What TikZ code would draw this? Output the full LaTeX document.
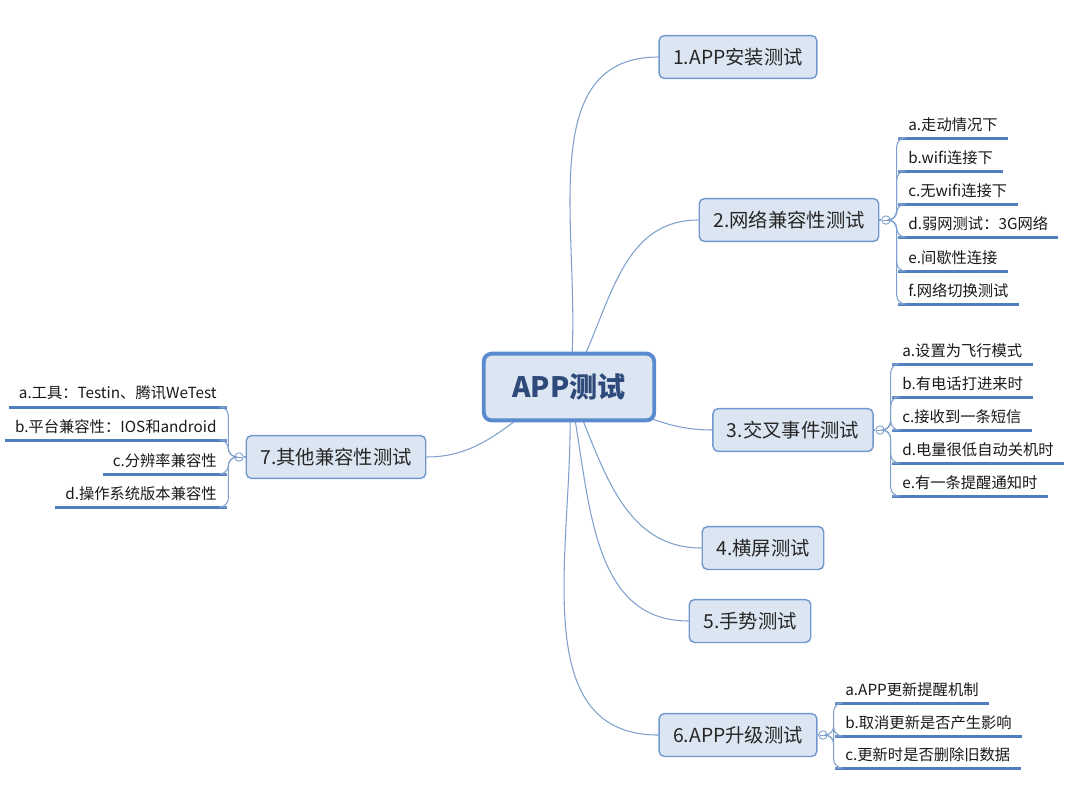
\documentclass[tikz,border=0pt]{standalone}
\usepackage{fontspec}
\setmainfont{Noto Sans CJK SC}
\usetikzlibrary{backgrounds}

\definecolor{boxfill}{HTML}{DCE6F2}
\definecolor{boxline}{HTML}{7097CE}
\definecolor{rootline}{HTML}{5B8BCF}
\definecolor{roottext}{HTML}{2E4A7A}
\definecolor{limbcol}{HTML}{7FA0CC}
\definecolor{ulcol}{HTML}{4F7EC1}

\tikzset{
  root/.style={draw=rootline,line width=2.2pt,fill=boxfill,rounded corners=4.5pt,
    minimum width=97pt,minimum height=38pt,text=roottext,
    font=\fontsize{16}{18}\selectfont\bfseries},
  branch/.style={draw=boxline,line width=0.8pt,fill=boxfill,rounded corners=3pt,
    minimum height=24.4pt,inner xsep=8pt,text=black!85,
    font=\fontsize{11}{13}\selectfont},
  leaf/.style={inner xsep=5.7pt,inner ysep=3.6pt,text=black!90,
    font=\fontsize{8.7}{10}\selectfont},
  limb/.style={draw=limbcol,line width=0.6pt},
  twig/.style={draw=limbcol,line width=0.6pt,rounded corners=5pt},
  uline/.style={draw=ulcol,line width=1.7pt},
  knob/.style={circle,draw=limbcol,fill=white,line width=0.5pt,inner sep=0pt,
    minimum size=4.8pt,
    path picture={\draw[limbcol,line width=0.4pt]
      ([xshift=-1.5pt]path picture bounding box.center) --
      ([xshift=1.5pt]path picture bounding box.center);}}
}

\begin{document}
\begin{tikzpicture}[x=0.02cm,y=-0.02cm]
\useasboundingbox (0,0) rectangle (1077,789);

% centre and main topics
\node[root] (root) at (569,387) {APP测试};
\node[branch] (b1) at (738,57) {1.APP安装测试};
\node[branch] (b2) at (789,220) {2.网络兼容性测试};
\node[branch] (b3) at (793,430) {3.交叉事件测试};
\node[branch] (b4) at (763,548) {4.横屏测试};
\node[branch] (b5) at (750,621) {5.手势测试};
\node[branch] (b6) at (738,735) {6.APP升级测试};
\node[branch] (b7) at (336,457) {7.其他兼容性测试};

\begin{pgfonlayer}{background}
\draw[limb] (root.center) to[out=82,in=180] (b1.west);
\draw[limb] (root.center) to[out=60,in=180] (b2.west);
\draw[limb] (root.center) to[out=-15,in=180] (b3.west);
\draw[limb] (root.center) to[out=-66,in=180] (b4.west);
\draw[limb] (root.center) to[out=-78,in=180] (b5.west);
\draw[limb] (root.center) to[out=-86,in=180] (b6.west);
\draw[limb] (root.center) to[out=-155,in=0] (b7.east);
\end{pgfonlayer}

% collapse knobs
\node[knob] (k2) at (886,220) {};
\node[knob] (k3) at (880,430) {};
\node[knob] (k6) at (823,735) {};
\node[knob] (k7) at (239,457) {};

% network leaves
\node[leaf,anchor=south west] (l2a) at (898,138) {a.走动情况下};
\node[leaf,anchor=south west] (l2b) at (898,171) {b.wifi连接下};
\node[leaf,anchor=south west] (l2c) at (898,204) {c.无wifi连接下};
\node[leaf,anchor=south west] (l2d) at (898,237) {d.弱网测试：3G网络};
\node[leaf,anchor=south west] (l2e) at (898,271) {e.间歇性连接};
\node[leaf,anchor=south west] (l2f) at (898,304) {f.网络切换测试};

% cross event leaves
\node[leaf,anchor=south west] (l3a) at (892,364) {a.设置为飞行模式};
\node[leaf,anchor=south west] (l3b) at (892,397) {b.有电话打进来时};
\node[leaf,anchor=south west] (l3c) at (892,430) {c.接收到一条短信};
\node[leaf,anchor=south west] (l3d) at (892,463) {d.电量很低自动关机时};
\node[leaf,anchor=south west] (l3e) at (892,496) {e.有一条提醒通知时};

% upgrade leaves
\node[leaf,anchor=south west] (l6a) at (835,703) {a.APP更新提醒机制};
\node[leaf,anchor=south west] (l6b) at (835,736) {b.取消更新是否产生影响};
\node[leaf,anchor=south west] (l6c) at (835,768) {c.更新时是否删除旧数据};

% other compatibility leaves
\node[leaf,anchor=south east] (l7a) at (227,407) {a.工具：Testin、腾讯WeTest};
\node[leaf,anchor=south east] (l7b) at (227,440) {b.平台兼容性：IOS和android};
\node[leaf,anchor=south east] (l7c) at (227,474) {c.分辨率兼容性};
\node[leaf,anchor=south east] (l7d) at (227,507) {d.操作系统版本兼容性};

% underlines
\foreach \l in {l2a,l2b,l2c,l2d,l2e,l2f,l3a,l3b,l3c,l3d,l3e,l6a,l6b,l6c,l7a,l7b,l7c,l7d}
  \draw[uline] (\l.south west) -- (\l.south east);

% twigs from knobs to leaves
\foreach \l in {l2a,l2b,l2c,l2d,l2e,l2f}
  \draw[twig] (k2.east) -- ++(6,0) |- (\l.south west);
\foreach \l in {l3a,l3b,l3c,l3d,l3e}
  \draw[twig] (k3.east) -- ++(6,0) |- (\l.south west);
\foreach \l in {l6a,l6b,l6c}
  \draw[twig] (k6.east) -- ++(6,0) |- (\l.south west);
\foreach \l in {l7a,l7b,l7c,l7d}
  \draw[twig] (k7.west) -- ++(-6,0) |- (\l.south east);
\draw[limb] (b2.east) -- (k2.west);
\draw[limb] (b3.east) -- (k3.west);
\draw[limb] (b6.east) -- (k6.west);
\draw[limb] (b7.west) -- (k7.east);
\end{tikzpicture}
\end{document}
